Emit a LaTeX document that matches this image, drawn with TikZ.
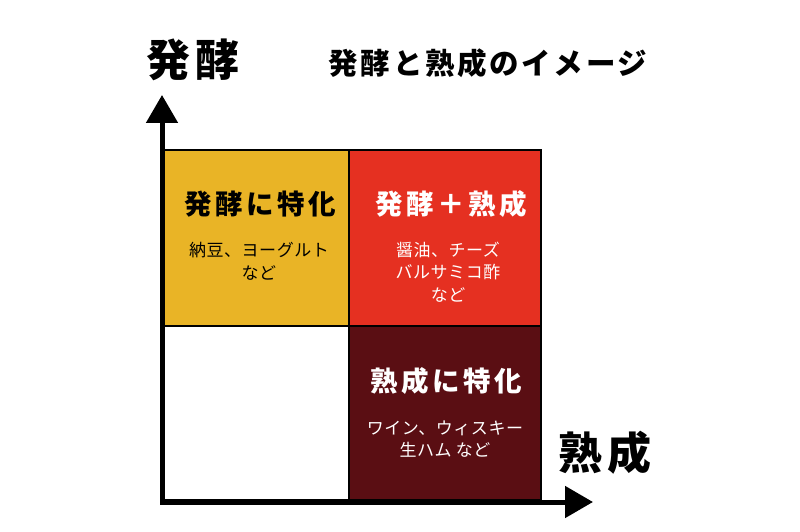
\documentclass[tikz,border=0pt]{standalone}
\usepackage{fontspec}
\setmainfont{Noto Sans CJK JP}
\usetikzlibrary{arrows.meta,positioning}
\definecolor{fermyellow}{HTML}{E9B426}
\definecolor{bothred}{HTML}{E53021}
\definecolor{agedark}{HTML}{5A0E13}
\tikzstyle{quad}=[draw=black,line width=1.5pt,inner sep=0pt]
\tikzstyle{axis}=[draw,line width=5pt,{Triangle[length=28pt,width=31pt]}-{Triangle[length=28pt,width=31pt]}]
\tikzstyle{axislabel}=[font=\fontsize{44}{48}\bfseries\addfontfeature{LetterSpace=12}]
\tikzstyle{title}=[font=\fontsize{29.5}{32}\bfseries\addfontfeature{LetterSpace=9}]
\tikzstyle{head}=[font=\fontsize{27.5}{30}\bfseries\addfontfeature{LetterSpace=13}]
\tikzstyle{items}=[font=\fontsize{17}{22.5}\selectfont\addfontfeature{LetterSpace=3},align=center]

\begin{document}
\begin{tikzpicture}[x=1pt,y=-1pt]
\useasboundingbox (0,0) rectangle (800,532);

% The four quadrants
\foreach \pos/\name/\w/\h/\col in {{(256,238)/ferm/186/176/fermyellow}, {(445,238)/both/192/176/bothred}, {(256,413)/none/186/174/white}, {(445,413)/aged/192/174/agedark}}
\node[quad,fill=\col,minimum width=\w pt,minimum height=\h pt] (\name) at \pos {};

% Axes
\coordinate (origin) at (162,502);
\coordinate (ytip) at (162,95);
\coordinate (xtip) at (593,502);
\path[axis] (ytip) -- (origin) -- (xtip);

% Labels
\node[axislabel] (ylabel) at (193,60) {発酵};
\node[axislabel] (xlabel) at (605,453) {熟成};
\node[title] (caption) at (488,63.5) {発酵と熟成のイメージ};

\node[head] (fermhead) at (260,204) {発酵に特化};
\node[items] (fermitems) at (259,261.5) {納豆、ヨーグルト\\など};
\node[head,text=white] (bothhead) at (451,204) {発酵＋熟成};
\node[items,text=white] (bothitems) at (448,272) {醤油、チーズ\\バルサミコ酢\\など};
\node[head,text=white] (agedhead) at (446,381) {熟成に特化};
\node[items,text=white] (ageditems) at (445,439) {ワイン、ウィスキー\\生ハム など};

\end{tikzpicture}
\end{document}
